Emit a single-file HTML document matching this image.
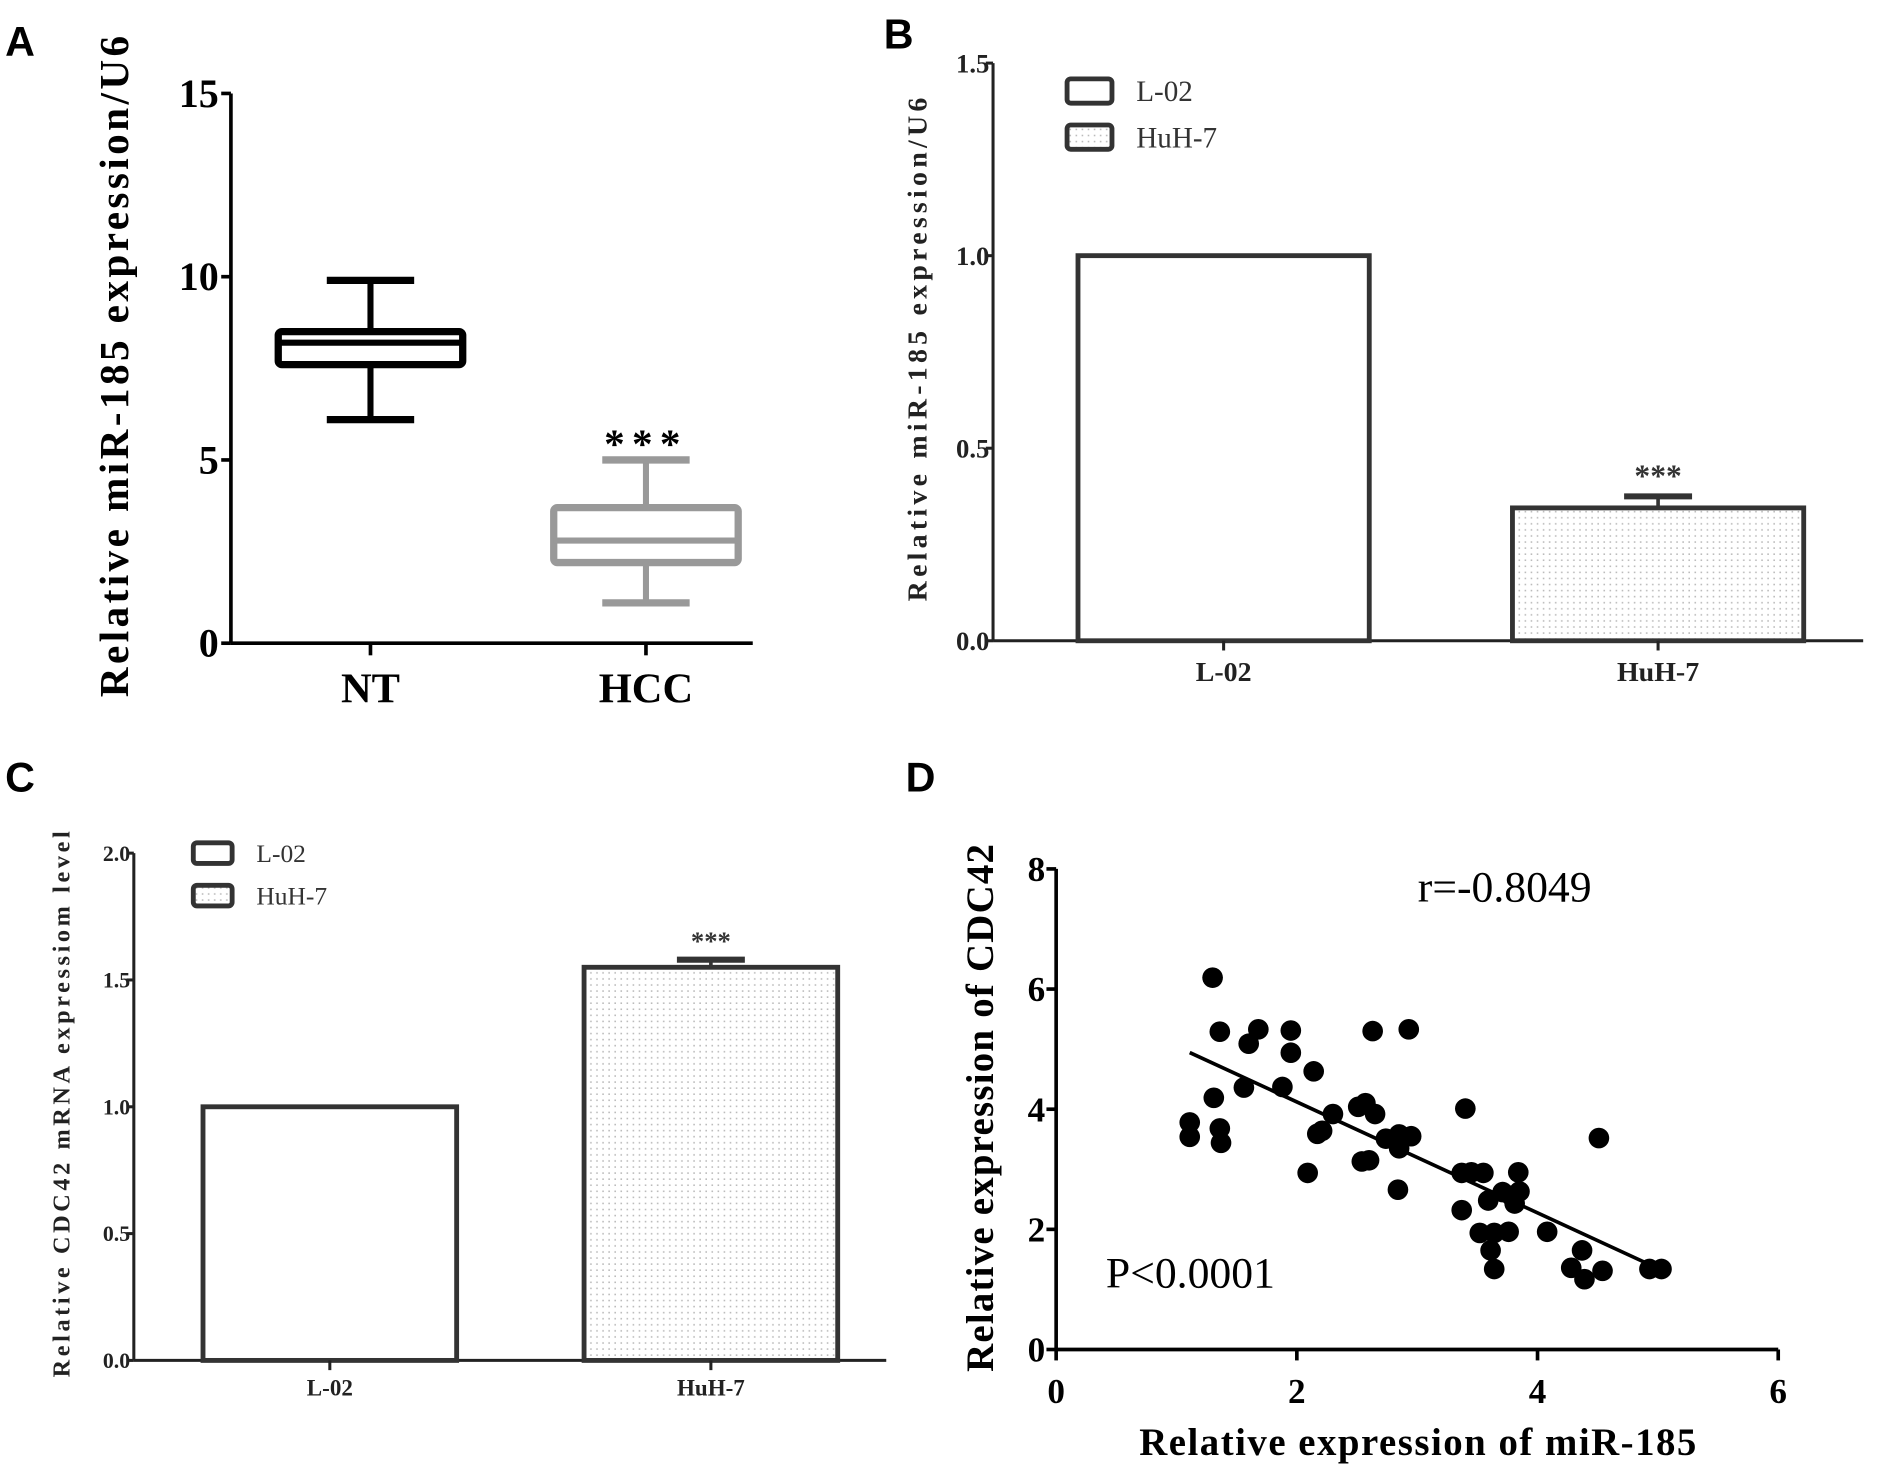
<!DOCTYPE html>
<html><head><meta charset="utf-8"><style>
html,body{margin:0;padding:0;background:#fff;}
svg{display:block;}
.serif{font-family:"Liberation Serif",serif;}
.sans{font-family:"Liberation Sans",sans-serif;}
</style></head><body>
<svg id="fig" width="1889" height="1466" viewBox="0 0 1556 1208" xmlns="http://www.w3.org/2000/svg">
<defs>
<pattern id="dots" width="5" height="5" patternUnits="userSpaceOnUse"><rect width="5" height="5" fill="#fff"/><rect x="1" y="1" width="1.3" height="1.3" fill="#bbb"/></pattern>
</defs>
<text x="4" y="46" class="sans" font-weight="bold" font-size="34">A</text>
<text x="728" y="40" class="sans" font-weight="bold" font-size="34">B</text>
<text x="4" y="652" class="sans" font-weight="bold" font-size="34">C</text>
<text x="746" y="652" class="sans" font-weight="bold" font-size="34">D</text>
<g id="pa"></g>
<g id="pb"></g>
<g id="pc"></g>
<g id="pd"></g>
</svg>
<script>
// Panel A data
const aCategories = ["NT","HCC"];
const aMin = [6.1, 1.1];
const aQ1 = [7.6, 2.2];
const aMedian = [8.2, 2.8];
const aQ3 = [8.5, 3.7];
const aMax = [9.9, 5.0];
const aTicks = [0,5,10,15];
// Panel B data
const bCategories = ["L-02","HuH-7"];
const bValues = [1.0, 0.345];
const bErrors = [0, 0.03];
const bTicks = ["0.0","0.5","1.0","1.5"];
// Panel C data
const cCategories = ["L-02","HuH-7"];
const cValues = [1.0, 1.55];
const cErrors = [0, 0.03];
const cTicks = ["0.0","0.5","1.0","1.5","2.0"];
// Panel D data
const dX = [1.30,1.36,1.60,1.68,1.95,1.95,2.14,2.63,2.93,1.56,1.88,1.31,1.11,1.11,1.36,1.37,2.30,2.51,2.57,2.65,2.17,2.21,2.09,2.54,2.60,2.74,2.85,2.95,2.85,2.84,3.40,3.37,3.45,3.55,3.37,3.59,3.71,3.78,3.85,3.84,3.81,3.52,3.64,3.76,3.61,3.64,4.08,4.37,4.28,4.39,4.54,4.51,4.93,5.03];
const dY = [6.19,5.29,5.09,5.33,5.31,4.94,4.63,5.30,5.33,4.36,4.37,4.19,3.78,3.54,3.68,3.44,3.92,4.04,4.10,3.92,3.59,3.64,2.94,3.13,3.15,3.51,3.58,3.55,3.35,2.66,4.01,2.94,2.95,2.94,2.32,2.48,2.62,2.56,2.63,2.95,2.43,1.94,1.94,1.96,1.65,1.34,1.96,1.65,1.36,1.17,1.31,3.52,1.34,1.34];
const dXTicks = [0,2,4,6];
const dYTicks = [0,2,4,6,8];

const NS="http://www.w3.org/2000/svg";
function mk(parent,tag,attrs,text){const e=document.createElementNS(NS,tag);for(const k in attrs)e.setAttribute(k,attrs[k]);if(text!==undefined)e.textContent=text;parent.appendChild(e);return e;}

// ---------- Panel A ----------
(function(){
const g=document.getElementById('pa');
const x0=190,x1=620,yTop=77,yBot=530,vmax=15;
const y=v=>yBot-(v/vmax)*(yBot-yTop);
const cx=[305,532];
mk(g,'line',{x1:x0,y1:yTop,x2:x0,y2:yBot,stroke:'#000','stroke-width':3});
mk(g,'line',{x1:x0,y1:yBot,x2:x1,y2:yBot,stroke:'#000','stroke-width':3});
aTicks.forEach(t=>{
 mk(g,'line',{x1:x0-8,y1:y(t),x2:x0,y2:y(t),stroke:'#000','stroke-width':3});
 const tx=mk(g,'text',{x:x0-10,y:y(t)+11,'text-anchor':'end','font-size':33,'font-weight':'bold',class:'serif'},String(t));
 
 
});
const cols=['#000','#999'];
aCategories.forEach((c,i)=>{
 const b=mk(g,'g',{});
 
 
 const col=cols[i],hw=76,cw=36;
 mk(b,'line',{x1:cx[i],y1:y(aMax[i]),x2:cx[i],y2:y(aMin[i]),stroke:col,'stroke-width':5});
 mk(b,'line',{x1:cx[i]-cw,y1:y(aMax[i]),x2:cx[i]+cw,y2:y(aMax[i]),stroke:col,'stroke-width':6});
 mk(b,'line',{x1:cx[i]-cw,y1:y(aMin[i]),x2:cx[i]+cw,y2:y(aMin[i]),stroke:col,'stroke-width':6});
 mk(b,'rect',{x:cx[i]-hw,y:y(aQ3[i]),width:2*hw,height:y(aQ1[i])-y(aQ3[i]),fill:'#fff',stroke:col,'stroke-width':6,rx:3});
 mk(b,'line',{x1:cx[i]-hw,y1:y(aMedian[i]),x2:cx[i]+hw,y2:y(aMedian[i]),stroke:col,'stroke-width':5});
 mk(g,'line',{x1:cx[i],y1:yBot,x2:cx[i],y2:yBot+10,stroke:'#000','stroke-width':3});
 const l=mk(g,'text',{x:cx[i],y:yBot+49,'text-anchor':'middle','font-size':35,'font-weight':'bold',class:'serif'},c);
 
 
});
const s=mk(g,'text',{x:cx[1],y:y(aMax[1])-2,'text-anchor':'middle','font-size':34,'font-weight':'bold',class:'serif','letter-spacing':6},'***');


const yt=mk(g,'text',{transform:'translate(105,302) rotate(-90)','text-anchor':'middle','font-size':34,'font-weight':'bold',class:'serif',textLength:545,lengthAdjust:'spacing'},'Relative miR-185 expression/U6');


})();

// ---------- Bar panels ----------
function barPanel(id,cfg,cats,vals,errs,ticks){
 const g=document.getElementById(id);
 const {x0,x1,yTop,yBot,vmax,bars,fs,lfs,title,tx,ty,tfs,tlen,legY,legX,legFs,starFs}=cfg;
 const y=v=>yBot-(v/vmax)*(yBot-yTop);
 mk(g,'line',{x1:x0,y1:yTop,x2:x0,y2:yBot,stroke:'#222','stroke-width':2.5});
 mk(g,'line',{x1:x0,y1:yBot,x2:x1,y2:yBot,stroke:'#222','stroke-width':2.5});
 ticks.forEach(t=>{const v=parseFloat(t);
  mk(g,'line',{x1:x0-6,y1:y(v),x2:x0,y2:y(v),stroke:'#222','stroke-width':2.5});
  const e=mk(g,'text',{x:x0-3,y:y(v)+fs*0.35,'text-anchor':'end','font-size':fs,'font-weight':'bold',class:'serif',fill:'#222'},t);
  
  
 });
 cats.forEach((c,i)=>{
  const [bx0,bx1]=bars[i],mid=(bx0+bx1)/2;
  const r=mk(g,'rect',{x:bx0,y:y(vals[i]),width:bx1-bx0,height:yBot-y(vals[i]),fill:i?'url(#dots)':'#fff',stroke:'#333','stroke-width':4});
  
  
  if(errs[i]>0){
   mk(g,'line',{x1:mid,y1:y(vals[i]),x2:mid,y2:y(vals[i]+errs[i]),stroke:'#333','stroke-width':3});
   mk(g,'line',{x1:mid-28,y1:y(vals[i]+errs[i]),x2:mid+28,y2:y(vals[i]+errs[i]),stroke:'#333','stroke-width':5});
   const s=mk(g,'text',{x:mid,y:y(vals[i]+errs[i])-8,'text-anchor':'middle','font-size':starFs,'font-weight':'bold',class:'serif',fill:'#333'},'***');
   
   
  }
  mk(g,'line',{x1:mid,y1:yBot,x2:mid,y2:yBot+8,stroke:'#222','stroke-width':2.5});
  const l=mk(g,'text',{x:mid,y:yBot+lfs+10,'text-anchor':'middle','font-size':lfs,'font-weight':'bold',class:'serif',fill:'#222'},c);
  
  
  const le=mk(g,'g',{});
  
  
  const ly=legY+i*cfg.legGap;
  mk(le,'rect',{x:legX,y:ly-cfg.legH/2,width:cfg.legW,height:cfg.legH,rx:3,fill:i?'url(#dots)':'#fff',stroke:'#333','stroke-width':4});
  mk(le,'text',{x:legX+cfg.legW+20,y:ly+legFs*0.35,'font-size':legFs,class:'serif',fill:'#333'},c);
 });
 const t=mk(g,'text',{transform:`translate(${tx},${ty}) rotate(-90)`,'text-anchor':'middle','font-size':tfs,'font-weight':'bold',class:'serif',fill:'#222',textLength:tlen,lengthAdjust:'spacing'},title);
 
 
}
barPanel('pb',{x0:818,x1:1535,yTop:52,yBot:528,vmax:1.5,bars:[[888,1128],[1246,1486]],fs:22,lfs:23,title:'Relative miR-185 expression/U6',tx:763,ty:288,tfs:23,tlen:415,legY:75,legX:879,legFs:24,legGap:38,legW:37,legH:20,starFs:26},bCategories,bValues,bErrors,bTicks);
barPanel('pc',{x0:110,x1:730,yTop:703,yBot:1121,vmax:2.0,bars:[[167,376],[481,690]],fs:18,lfs:19,title:'Relative CDC42 mRNA expressiom level',tx:57,ty:910,tfs:20,tlen:450,legY:703,legX:159,legFs:21,legGap:35,legW:32,legH:17,starFs:22},cCategories,cValues,cErrors,cTicks);

// ---------- Panel D ----------
(function(){
const g=document.getElementById('pd');
const X0=870,X6=1465,Y0=1112,Y8=716;
const sx=v=>X0+v/6*(X6-X0), sy=v=>Y0-v/8*(Y0-Y8);
mk(g,'line',{x1:X0,y1:Y8,x2:X0,y2:Y0,stroke:'#000','stroke-width':3});
mk(g,'line',{x1:X0,y1:Y0,x2:X6,y2:Y0,stroke:'#000','stroke-width':3});
dYTicks.forEach(t=>{
 mk(g,'line',{x1:X0-8,y1:sy(t),x2:X0,y2:sy(t),stroke:'#000','stroke-width':3});
 const e=mk(g,'text',{x:X0-9,y:sy(t)+10,'text-anchor':'end','font-size':29,'font-weight':'bold',class:'serif'},String(t));
 
 
});
dXTicks.forEach(t=>{
 mk(g,'line',{x1:sx(t),y1:Y0,x2:sx(t),y2:Y0+9,stroke:'#000','stroke-width':3});
 const e=mk(g,'text',{x:sx(t),y:Y0+44,'text-anchor':'middle','font-size':29,'font-weight':'bold',class:'serif'},String(t));
 
 
});
dX.forEach((v,i)=>{
 const c=mk(g,'circle',{cx:sx(v),cy:sy(dY[i]),r:8.5,fill:'#000'});
 
 
});
const n=dX.length,mx=dX.reduce((a,b)=>a+b)/n,my=dY.reduce((a,b)=>a+b)/n;
let sxy=0,sxx=0;dX.forEach((v,i)=>{sxy+=(v-mx)*(dY[i]-my);sxx+=(v-mx)*(v-mx);});
const m=sxy/sxx,b=my-m*mx,xa=Math.min(...dX),xb=Math.max(...dX)-0.1;
const fl=mk(g,'line',{x1:sx(xa),y1:sy(m*xa+b),x2:sx(xb),y2:sy(m*xb+b),stroke:'#000','stroke-width':3});


const r=mk(g,'text',{x:1168,y:743,'font-size':36,class:'serif'},'r=-0.8049');


const p=mk(g,'text',{x:911,y:1061,'font-size':36,class:'serif'},'P<0.0001');


const xt=mk(g,'text',{x:1168,y:1199,'text-anchor':'middle','font-size':32,'font-weight':'bold',class:'serif',textLength:459,lengthAdjust:'spacing'},'Relative expression of miR-185');


const yt=mk(g,'text',{transform:'translate(818,913) rotate(-90)','text-anchor':'middle','font-size':32,'font-weight':'bold',class:'serif',textLength:435,lengthAdjust:'spacing'},'Relative expression of CDC42');


})();
</script>
</body></html>
